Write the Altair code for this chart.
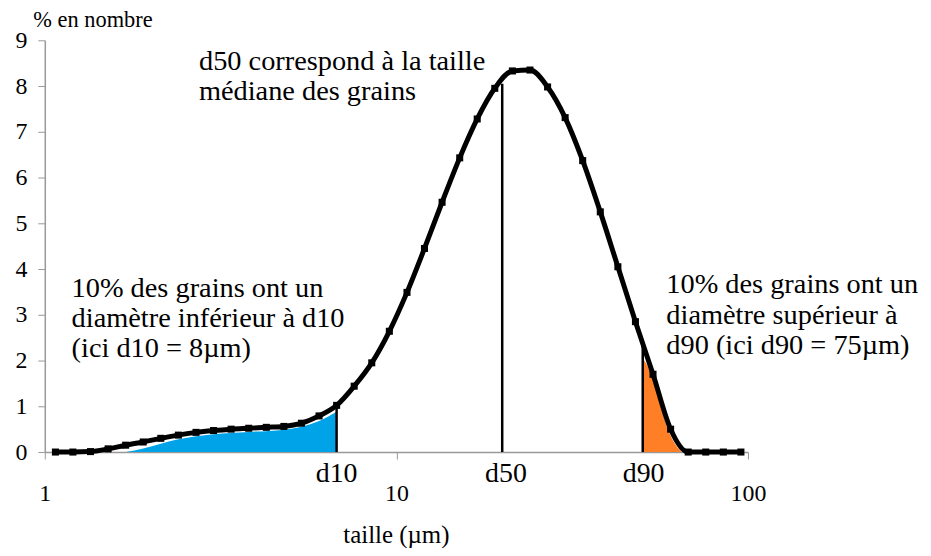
import altair as alt
import pandas as pd

# ---- data ----
sizes = [1.072, 1.202, 1.349, 1.514, 1.698, 1.905, 2.138, 2.399, 2.692, 3.020,
         3.388, 3.802, 4.266, 4.786, 5.370, 6.026, 6.761, 7.586, 8.511, 9.550,
         10.72, 12.02, 13.49, 15.14, 16.98, 19.05, 21.38, 23.99, 26.92, 30.20,
         33.88, 38.02, 42.66, 47.86, 53.70, 60.26, 67.61, 75.86, 85.11, 95.50]
percent = [0.0, 0.0, 0.01, 0.07, 0.15, 0.22, 0.30, 0.37, 0.43, 0.47,
           0.50, 0.52, 0.54, 0.56, 0.63, 0.79, 1.02, 1.44, 1.95, 2.64,
           3.49, 4.45, 5.46, 6.43, 7.28, 7.95, 8.33, 8.35, 7.98, 7.31,
           6.37, 5.25, 4.05, 2.85, 1.70, 0.50, 0.0, 0.0, 0.0, 0.0]

blue_x = [1.70, 1.905, 2.40, 3.02, 3.80, 4.79, 6.03, 6.76]
blue_y = [0.0, 0.08, 0.28, 0.39, 0.44, 0.49, 0.68, 0.88]

orange_x = [50.2, 51.2, 54.6, 58.7, 63.5, 64.8]
orange_y = [2.05, 1.95, 1.44, 0.57, 0.07, 0.0]

marker_names = ["d10", "d50", "d90"]
marker_x = [6.76, 20.0, 50.2]
marker_top = [1.02, 8.05, 2.35]
marker_label_x = [6.76, 20.5, 50.5]
marker_label_y = [-0.65, -0.65, -0.65]

notes = [
    "d50 correspond à la taille\nmédiane des grains",
    "10% des grains ont un\ndiamètre inférieur à d10\n(ici d10 = 8µm)",
    "10% des grains ont un\ndiamètre supérieur à\nd90 (ici d90 = 75µm)",
]
note_x = [2.745, 1.192, 58.6]
note_y = [8.35, 3.39, 3.48]
note_lh = [30, 30, 31]

x_ticks = [1, 10, 100]
y_ticks = list(range(0, 10))

FONT = "'Times New Roman', 'Liberation Serif', 'DejaVu Serif', serif"

curve = pd.DataFrame({"x": sizes, "y": percent})
blue = pd.DataFrame({"x": blue_x, "y": blue_y})
orange = pd.DataFrame({"x": orange_x, "y": orange_y})
rules = pd.DataFrame({"x": marker_x, "y": [0, 0, 0], "y1": marker_top})
mlabels = pd.DataFrame({"x": marker_label_x, "y": marker_label_y, "t": marker_names})
notes_df = pd.DataFrame({"x": note_x, "y": note_y, "t": notes})

xscale = alt.Scale(type="log", domain=[1, 100], nice=False)
yscale = alt.Scale(domain=[0, 9], nice=False)

xaxis = alt.Axis(values=x_ticks, format="d", grid=False, title="taille (µm)",
                 titleX=353, titleY=91, titleAlign="center", titleBaseline="alphabetic",
                 titleFont=FONT, titleFontSize=25, titleFontWeight="normal", titleColor="black",
                 labelFont=FONT, labelFontSize=24, labelColor="black", labelPadding=23,
                 tickSize=7, tickColor="#999999", domainColor="#999999", domainWidth=1.5,
                 labelFlush=False, labelOverlap=False)
yaxis = alt.Axis(values=y_ticks, grid=False, title="% en nombre",
                 titleAngle=0, titleX=-12, titleY=-14, titleAlign="left",
                 titleBaseline="alphabetic", titleFont=FONT, titleFontSize=22.5,
                 titleFontWeight="normal", titleColor="black",
                 labelFont=FONT, labelFontSize=24, labelColor="black", labelPadding=11,
                 tickSize=7, tickColor="#999999", domainColor="#999999", domainWidth=1.5,
                 labelFlush=False, labelOverlap=False)


def X():
    return alt.X("x:Q", scale=xscale, axis=xaxis)


def Y():
    return alt.Y("y:Q", scale=yscale, axis=yaxis)


line = alt.Chart(curve).mark_line(color="black", strokeWidth=5, interpolate="monotone").encode(x=X(), y=Y())
blue_area = alt.Chart(blue).mark_area(color="#00a2e8", interpolate="monotone").encode(x=X(), y=Y())
orange_area = alt.Chart(orange).mark_area(color="#ff7f27", interpolate="monotone").encode(x=X(), y=Y())

rule_layer = alt.Chart(rules).mark_rule(color="black", strokeWidth=2.5).encode(
    x=X(), y=Y(), y2="y1:Q",
)

points = alt.Chart(curve).mark_square(color="black", size=50, opacity=1).encode(x=X(), y=Y())

mlabel_layer = alt.Chart(mlabels).mark_text(
    font=FONT, fontSize=28, color="black", align="center", baseline="alphabetic"
).encode(x=X(), y=Y(), text="t:N")

note_layers = []
for i in range(len(notes)):
    note_layers.append(
        alt.Chart(notes_df.iloc[[i]]).mark_text(
            font=FONT, fontSize=28.5, color="black", align="left", baseline="alphabetic",
            lineBreak="\n", lineHeight=note_lh[i]
        ).encode(x=X(), y=Y(), text="t:N")
    )

chart = alt.layer(
    blue_area, orange_area, rule_layer, line, points, mlabel_layer, *note_layers
).properties(
    width=707, height=414,
    autosize=alt.AutoSizeParams(type="none"),
    padding={"left": 37, "top": 31, "right": 176, "bottom": 95},
    background="white",
).configure_view(stroke=None)

chart.save("out.html", embed_options={"renderer": "svg", "actions": False})
